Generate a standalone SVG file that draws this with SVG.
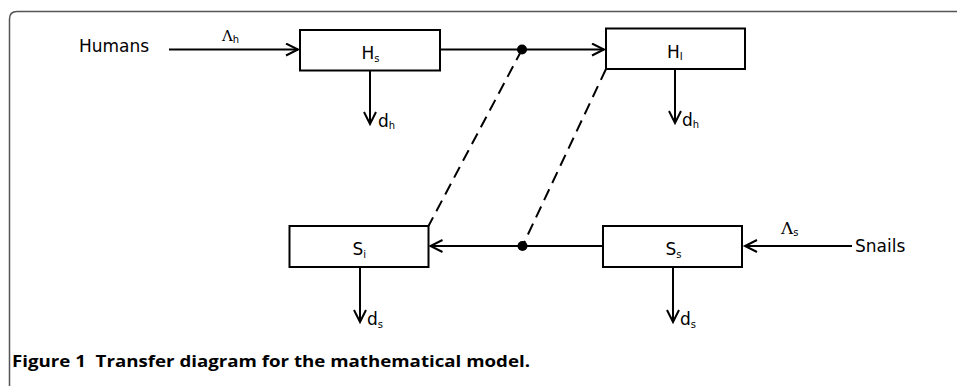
<svg xmlns="http://www.w3.org/2000/svg" width="957" height="386" viewBox="0 0 957 386">
<style>
.box{fill:#fff;stroke:#000;stroke-width:2}
.arr{fill:none;stroke:#000;stroke-width:2;marker-end:url(#chev)}
.dash{fill:none;stroke:#000;stroke-width:2;stroke-dasharray:12 7}
.lbl{font-family:"DejaVu Sans",sans-serif;font-size:17px;fill:#000}
.sub{font-size:10px}
.lam{font-family:"DejaVu Serif","Liberation Serif",serif;fill:#000}
.lsub{font-family:"DejaVu Sans",sans-serif}
.cap{font-family:"Open Sans","Liberation Sans",sans-serif;font-weight:bold;font-size:16.5px;fill:#000}
</style>
<defs>
<marker id="chev" markerUnits="userSpaceOnUse" markerWidth="16" markerHeight="16" refX="13" refY="7" orient="auto">
<path d="M1,1 L13,7 L1,13" fill="none" stroke="#000" stroke-width="2"/>
</marker>
</defs>
<path d="M9.5 386 V19 Q9.5 11.5 17 11.5 H957" fill="none" stroke="#555" stroke-width="1.5"/>
<g id="connectors">
<line class="arr" x1="169" y1="49.5" x2="298" y2="49.5"/>
<line class="arr" x1="440" y1="49.5" x2="604" y2="49.5"/>
<line class="arr" x1="370" y1="70.5" x2="370" y2="124"/>
<line class="arr" x1="675" y1="69" x2="675" y2="123"/>
<line class="dash" x1="522" y1="49.5" x2="428.5" y2="226"/>
<line class="dash" x1="606" y1="69" x2="522.5" y2="246"/>
<line class="arr" x1="603" y1="246" x2="430.5" y2="246"/>
<line class="arr" x1="852" y1="246" x2="745" y2="246"/>
<line class="arr" x1="360" y1="267" x2="360" y2="322"/>
<line class="arr" x1="673" y1="267" x2="673" y2="322"/>
<circle cx="522" cy="49.5" r="5" fill="#000"/>
<circle cx="522.5" cy="246" r="5" fill="#000"/>
</g>
<g id="humans"><text class="lbl" x="79" y="51.5">Humans</text></g>
<g id="lambda-h"><text class="lam" x="222" y="41" style="font-size:15px">Λ<tspan class="lsub" style="font-size:10px" dy="1.5">h</tspan></text></g>
<g id="Hs">
<rect class="box" x="300" y="30" width="140" height="40.5"/>
<text class="lbl" x="361.5" y="59">H<tspan class="sub" dy="2.5">s</tspan></text>
</g>
<g id="HI">
<rect class="box" x="606" y="28.5" width="139" height="40.5"/>
<text class="lbl" x="667" y="57.5">H<tspan class="sub" dy="2.5">I</tspan></text>
</g>
<g id="dh1"><text class="lbl" x="378" y="126.5">d<tspan class="sub" dy="2.5">h</tspan></text></g>
<g id="dh2"><text class="lbl" x="682" y="125.5">d<tspan class="sub" dy="2.5">h</tspan></text></g>
<g id="Si">
<rect class="box" x="289.5" y="226" width="139" height="41"/>
<text class="lbl" x="352.5" y="255">S<tspan class="sub" dy="2.5">i</tspan></text>
</g>
<g id="Ss">
<rect class="box" x="603" y="226" width="139" height="41"/>
<text class="lbl" x="665.5" y="255">S<tspan class="sub" dy="2.5">s</tspan></text>
</g>
<g id="ds1"><text class="lbl" x="367" y="325">d<tspan class="sub" dy="2.5">s</tspan></text></g>
<g id="ds2"><text class="lbl" x="680" y="325">d<tspan class="sub" dy="2.5">s</tspan></text></g>
<g id="lambda-s"><text class="lam" x="781" y="234" style="font-size:17px">Λ<tspan class="lsub" style="font-size:10px" dy="2">s</tspan></text></g>
<g id="snails"><text class="lbl" x="855" y="252">Snails</text></g>
<g id="caption">
<text class="cap" x="12" y="367" textLength="518" lengthAdjust="spacingAndGlyphs">Figure 1&#160; Transfer diagram for the mathematical model.</text>
</g>
</svg>
